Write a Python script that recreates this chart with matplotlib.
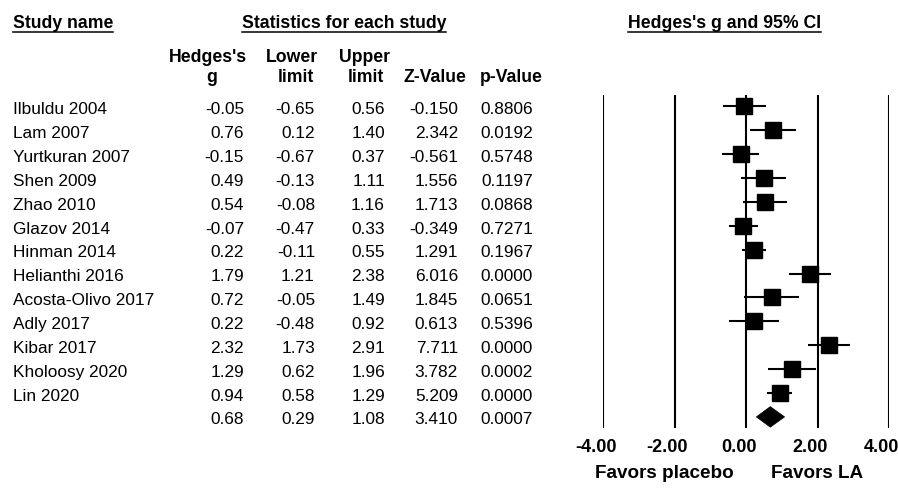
import numpy as np
import matplotlib.pyplot as plt
from matplotlib.patches import Polygon
from matplotlib.lines import Line2D
from matplotlib.transforms import blended_transform_factory, ScaledTranslation

plt.rcParams['font.family'] = ['Liberation Sans', 'DejaVu Sans']

# --- Data ---
studies = ["Ilbuldu 2004", "Lam 2007", "Yurtkuran 2007", "Shen 2009", "Zhao 2010",
           "Glazov 2014", "Hinman 2014", "Helianthi 2016", "Acosta-Olivo 2017",
           "Adly 2017", "Kibar 2017", "Kholoosy 2020", "Lin 2020"]
g = [-0.05, 0.76, -0.15, 0.49, 0.54, -0.07, 0.22, 1.79, 0.72, 0.22, 2.32, 1.29, 0.94]
lower = [-0.65, 0.12, -0.67, -0.13, -0.08, -0.47, -0.11, 1.21, -0.05, -0.48, 1.73, 0.62, 0.58]
upper = [0.56, 1.40, 0.37, 1.11, 1.16, 0.33, 0.55, 2.38, 1.49, 0.92, 2.91, 1.96, 1.29]
z_val = ["-0.150", "2.342", "-0.561", "1.556", "1.713", "-0.349", "1.291",
         "6.016", "1.845", "0.613", "7.711", "3.782", "5.209"]
p_val = ["0.8806", "0.0192", "0.5748", "0.1197", "0.0868", "0.7271", "0.1967",
         "0.0000", "0.0651", "0.5396", "0.0000", "0.0002", "0.0000"]
# summary row
sum_g, sum_lo, sum_hi, sum_z, sum_p = 0.68, 0.29, 1.08, "3.410", "0.0007"
# relative square sizes (study weights)
weights = [1.0, 1.0, 1.0, 1.0, 1.0, 1.05, 1.0, 1.0, 1.0, 1.0, 1.05, 1.0, 1.05]
xticks = [-4, -2, 0, 2, 4]

W, H = 898, 491
fig = plt.figure(figsize=(W / 100, H / 100), dpi=100)


def fy(py):
    # pixel row from top -> figure fraction
    return 1 - py / H


# forest axes placed in pixels: x from -4 (603px) to 4 (889px), y 95..427.5 px
ax_l, ax_r, ax_t, ax_b = 603, 889, 95, 427.5
ax = fig.add_axes([ax_l / W, 1 - ax_b / H, (ax_r - ax_l) / W, (ax_b - ax_t) / H])
n = len(studies)
row_px = 23.9
top_row_px = 106.2
ax.set_xlim(-4, 4)
ax.set_ylim(n + (ax_b - (top_row_px + n * row_px)) / row_px, -(top_row_px - ax_t) / row_px)
for s in ax.spines.values():
    s.set_visible(False)
ax.set_yticks([])

for xv in xticks:
    ax.axvline(xv, color='black', lw=1.5, zorder=1)

rows = np.arange(n)
ax.hlines(rows, lower, upper, color='black', lw=1.5, zorder=2)
for i in range(n):
    ax.plot(g[i], rows[i], 's', color='black', ms=11.6 * weights[i], mew=1, zorder=3)

dh = 0.43
diamond = Polygon([[sum_lo, n], [sum_g, n - dh], [sum_hi, n], [sum_g, n + dh]],
                  closed=True, facecolor='black', edgecolor='black', lw=0.5, zorder=3)
ax.add_patch(diamond)

ax.set_xticks(xticks)
ax.set_xticklabels(["%.2f" % v for v in xticks], fontsize=13, fontweight='bold')
ax.tick_params(axis='x', length=0, pad=8.1)
shift = ScaledTranslation(-7.5 / 100, 0, fig.dpi_scale_trans)
for lab in ax.get_xticklabels():
    lab.set_transform(lab.get_transform() + shift)

fig.text(664 / W, fy(478.3), "Favors placebo", ha='center', va='baseline',
         fontsize=13.6, fontweight='bold')
fig.text(817 / W, fy(478.3), "Favors LA", ha='center', va='baseline',
         fontsize=13.6, fontweight='bold')

# --- table text ---
tr = blended_transform_factory(fig.transFigure, ax.transData)
fs = 12.4
fsb = 12.7
base_off = 7.8 / row_px  # baseline sits below the row centre
col_right = [244 / W, 315 / W, 385 / W, 458 / W, 533 / W]
for i in range(n):
    yb = rows[i] + base_off
    fig.text(13 / W, yb, studies[i], transform=tr, ha='left', va='baseline', fontsize=fs)
    vals = ["%.2f" % g[i], "%.2f" % lower[i], "%.2f" % upper[i], z_val[i], p_val[i]]
    for xc, v in zip(col_right, vals):
        fig.text(xc, yb, v, transform=tr, ha='right', va='baseline', fontsize=fs)
sum_vals = ["%.2f" % sum_g, "%.2f" % sum_lo, "%.2f" % sum_hi, sum_z, sum_p]
for xc, v in zip(col_right, sum_vals):
    fig.text(xc, n + base_off - 0.05, v, transform=tr, ha='right', va='baseline', fontsize=fs)

# column headers (two lines, each placed on its own baseline)
hdr_top = [("Hedges's", 207.5), ("Lower", 292), ("Upper", 364)]
hdr_bot = [("g", 212), ("limit", 295.5), ("limit", 366), ("Z-Value", 435), ("p-Value", 511.5)]
for txt, xc in hdr_top:
    fig.text(xc / W, fy(62.5), txt, ha='center', va='baseline', fontsize=fsb, fontweight='bold')
for txt, xc in hdr_bot:
    fig.text(xc / W, fy(81.5), txt, ha='center', va='baseline', fontsize=fsb, fontweight='bold')

# underlined titles
titles = [("Study name", 13, 'left'), ("Statistics for each study", 343.8, 'center'),
          ("Hedges's g and 95% CI", 724.5, 'center')]
title_objs = []
for txt, xc, ha in titles:
    t = fig.text(xc / W, fy(28.3), txt, ha=ha, va='baseline', fontsize=fsb, fontweight='bold')
    title_objs.append(t)

fig.canvas.draw()
for t in title_objs:
    bb = t.get_window_extent()
    fig.add_artist(Line2D([bb.x0 / W, bb.x1 / W], [fy(31.5), fy(31.5)], color='black',
                          lw=1.1, transform=fig.transFigure))

fig.savefig("out.png", dpi=100)
